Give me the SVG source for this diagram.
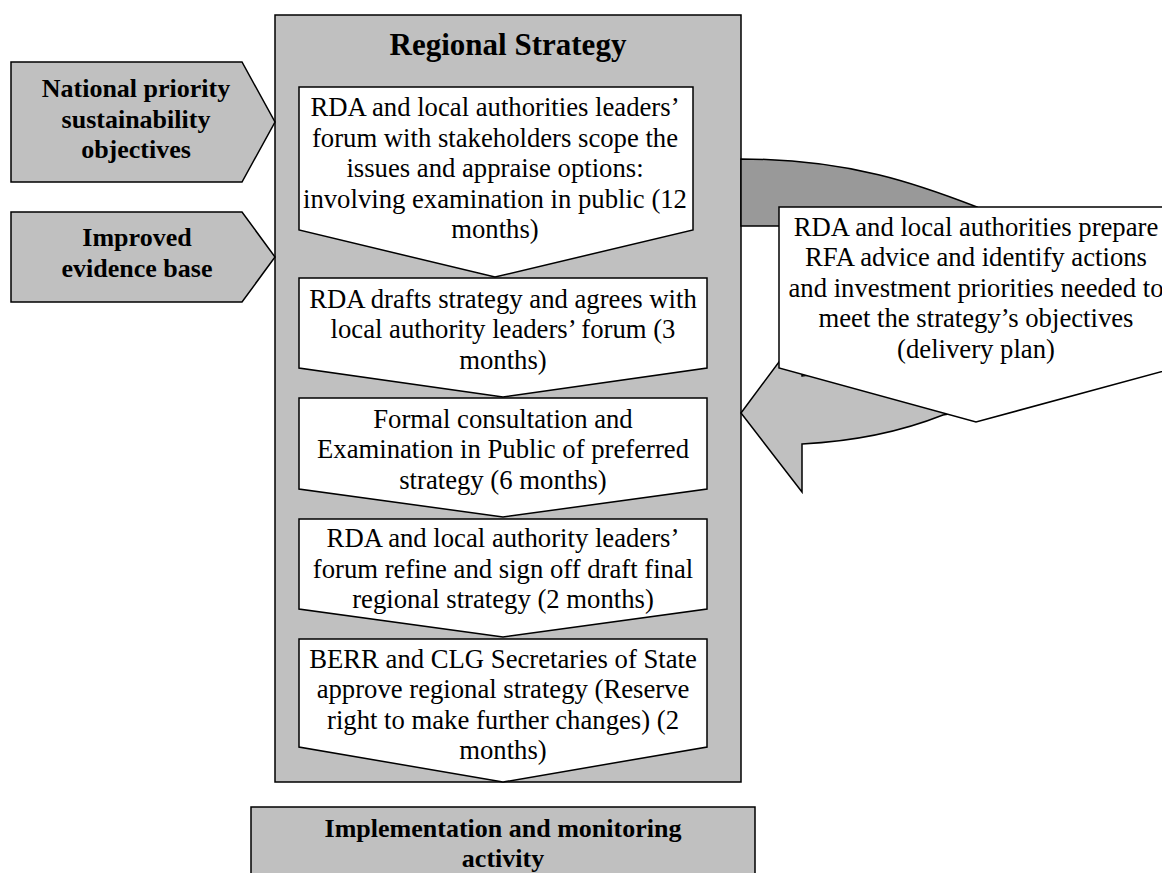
<svg xmlns="http://www.w3.org/2000/svg" width="1162" height="873" viewBox="0 0 1162 873">
<style>
.g{fill:#c0c0c0;stroke:#000;stroke-width:1.5;stroke-linejoin:miter}
.d{fill:#999999;stroke:#000;stroke-width:1.5}
.w{fill:#fff;stroke:#000;stroke-width:1.5}
.t{font-family:"Liberation Serif","Times New Roman",serif;font-size:26.7px;fill:#000;text-anchor:middle}
.b{font-weight:bold;font-size:26px}
</style>
<rect width="1162" height="873" fill="#fff"/>
<g id="regional-strategy">
<rect class="g" x="275" y="15" width="466" height="767"/>
<text class="t b" x="508" y="55" style="font-size:31px">Regional Strategy</text>
</g>
<g id="national-priority">
<polygon class="g" points="11,62 242,62 275,122 242,182 11,182"/>
<text class="t b"><tspan x="136" y="97">National priority</tspan><tspan x="136" y="128">sustainability</tspan><tspan x="136" y="158">objectives</tspan></text>
</g>
<g id="evidence-base">
<polygon class="g" points="11,212 242,212 275,257 242,302 11,302"/>
<text class="t b"><tspan x="137" y="246">Improved</tspan><tspan x="137" y="277">evidence base</tspan></text>
</g>
<g id="step1">
<polygon class="w" points="299,87 693,87 693,230 495,277 299,230"/>
<text class="t"><tspan x="495" y="116">RDA and local authorities leaders’</tspan><tspan x="495" y="146.5">forum with stakeholders scope the</tspan><tspan x="495" y="177">issues and appraise options:</tspan><tspan x="495" y="207.5">involving examination in public (12</tspan><tspan x="495" y="238">months)</tspan></text>
</g>
<g id="step2">
<polygon class="w" points="299,278 707,278 707,368 503,397 299,368"/>
<text class="t"><tspan x="503" y="307.5">RDA drafts strategy and agrees with</tspan><tspan x="503" y="338">local authority leaders’ forum (3</tspan><tspan x="503" y="368.5">months)</tspan></text>
</g>
<g id="step3">
<polygon class="w" points="299,398 707,398 707,489 503,517 299,489"/>
<text class="t"><tspan x="503" y="427.5">Formal consultation and</tspan><tspan x="503" y="458">Examination in Public of preferred</tspan><tspan x="503" y="488.5">strategy (6 months)</tspan></text>
</g>
<g id="step4">
<polygon class="w" points="299,519 707,519 707,609 503,637 299,609"/>
<text class="t"><tspan x="503" y="547">RDA and local authority leaders’</tspan><tspan x="503" y="577.5">forum refine and sign off draft final</tspan><tspan x="503" y="608">regional strategy (2 months)</tspan></text>
</g>
<g id="step5">
<polygon class="w" points="299,639 707,639 707,747 503,782 299,747"/>
<text class="t"><tspan x="503" y="667.5">BERR and CLG Secretaries of State</tspan><tspan x="503" y="698">approve regional strategy (Reserve</tspan><tspan x="503" y="728.5">right to make further changes) (2</tspan><tspan x="503" y="759">months)</tspan></text>
</g>
<g id="implementation">
<rect class="g" x="251" y="807" width="504" height="90"/>
<text class="t b"><tspan x="503" y="837">Implementation and monitoring</tspan><tspan x="503" y="867">activity</tspan></text>
</g>
<g id="connectors">
<path class="d" d="M741,159 C850,159 920,185 977,207 L1000,225 L1000,300 L790,300 L785,226 L741,226 Z"/>
<path class="g" d="M741,413 L802,331 L802,376 C830,374 870,370 900,368 L1000,380 L1000,405 L943,415 Q880,440 802,444 L802,492 Z"/>
</g>
<g id="delivery-plan">
<polygon class="w" points="779,207 1175,207 1175,368 976,422 779,368"/>
<text class="t"><tspan x="976" y="235.5">RDA and local authorities prepare</tspan><tspan x="976" y="266">RFA advice and identify actions</tspan><tspan x="976" y="296.5">and investment priorities needed to</tspan><tspan x="976" y="327">meet the strategy’s objectives</tspan><tspan x="976" y="357.5">(delivery plan)</tspan></text>
</g>
</svg>
